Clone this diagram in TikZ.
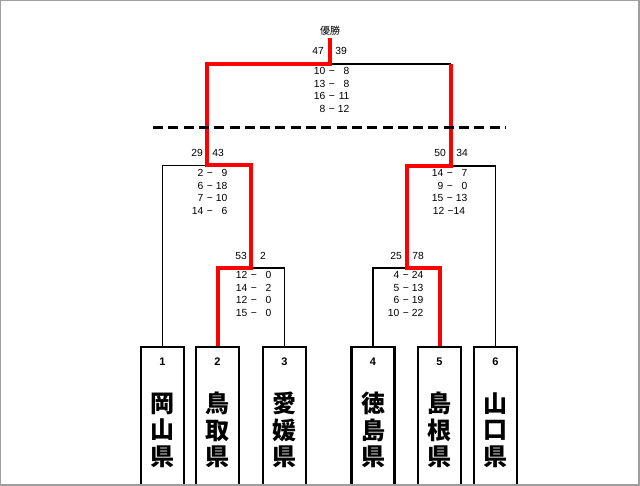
\documentclass[tikz,border=0pt]{standalone}
\usepackage{fontspec}
\setmainfont{Liberation Sans}
\newfontfamily\jp{Noto Sans CJK JP}
\newcommand\scr[2]{\makebox[1.25em][r]{#1}\,\,−\,\makebox[1.25em][r]{#2}}
\begin{document}
\begin{tikzpicture}[x=1pt,y=-1pt,
  win/.style={draw=red, line width=4pt, line join=miter},
  lose/.style={draw=black, line width=1.3pt},
  pref/.style={draw, line width=2.6pt, minimum width=43pt, minimum height=140pt, inner sep=0pt},
  num/.style={font=\fontsize{10.3}{12}\selectfont, inner sep=0pt},
  score/.style={font=\fontsize{10.3}{12.7}\selectfont, align=center, inner sep=0pt},
  seed/.style={font=\bfseries\fontsize{11}{12}\selectfont, inner sep=0pt},
  kanji/.style={font=\jp\bfseries\fontsize{24}{26.5}\selectfont, align=center, inner sep=0pt},
  frame/.style={fill=black!38, draw=none}]
\useasboundingbox (0,0) rectangle (640,486);
% boxes
\begin{scope}
\clip (0,0) rectangle (640,486);
\node[pref] (b1) at (162.5,417) {};
\node[pref] (b2) at (217.5,417) {};
\node[pref] (b3) at (284.5,417) {};
\node[pref] (b4) at (373,417) {};
\node[pref] (b5) at (439.5,417) {};
\node[pref] (b6) at (495.5,417) {};
\end{scope}
% seed numbers and names
\node[seed] (n1) at (162.5,362) {1};
\node[seed] (n2) at (217.5,362) {2};
\node[seed] (n3) at (284.5,362) {3};
\node[seed] (n4) at (373,362) {4};
\node[seed] (n5) at (439.5,362) {5};
\node[seed] (n6) at (495.5,362) {6};
\node[kanji] (k1) at (162.5,430) {岡\\山\\県};
\node[kanji] (k2) at (217.5,430) {鳥\\取\\県};
\node[kanji] (k3) at (284.5,430) {愛\\媛\\県};
\node[kanji] (k4) at (373,430) {徳\\島\\県};
\node[kanji] (k5) at (439.5,430) {島\\根\\県};
\node[kanji] (k6) at (495.5,430) {山\\口\\県};
% joints
\coordinate (j23) at (251,268);
\coordinate (jL) at (207,165.5);
\coordinate (tL) at (207,64);
\coordinate (top) at (330,64);
\coordinate (champ) at (330,38);
\coordinate (tR) at (451,64);
\coordinate (jR) at (451,166);
\coordinate (j45) at (407,268);
\coordinate (dl) at (153,128);
\coordinate (dr) at (505,128);
% losing lines
\draw[lose] (b1.north) |- (jL);
\draw[lose] (b3.north) |- (j23);
\draw[lose] (top) -- (tR);
\draw[lose] (b6.north) |- (jR);
\draw[lose] (b4.north) |- (j45);
% winning path
\draw[win] (b2.north) |- (j23) -- (j23 |- jL) -- (jL) -- (tL) -- (top) -- (champ);
\draw[win] (tR) -- (jR) -| (j45) -| (b5.north);
% dashed line
\draw[line width=3pt, dash pattern=on 10pt off 5.3pt] (dl) -- (dr);
% title and scores
\node[num, font=\jp\fontsize{10}{12}\selectfont] (title) at (330,31) {優勝};
\node[num] (f1) at (318,51) {47};
\node[num] (f2) at (341,51) {39};
\node[score] (fs) at (331,90) {\scr{10}{8}\\\scr{13}{8}\\\scr{16}{11}\\\scr{8}{12}};
\node[num] (l1) at (197,153) {29};
\node[num] (l2) at (218,153) {43};
\node[score] (ls) at (209,192) {\scr{2}{9}\\\scr{6}{18}\\\scr{7}{10}\\\scr{14}{6}};
\node[num] (r1) at (440,153) {50};
\node[num] (r2) at (462,153) {34};
\node[score] (rs) at (449,192) {\scr{14}{7}\\\scr{9}{0}\\\scr{15}{13}\\\makebox[1.25em][r]{12}\,\,−\makebox[1.25em][l]{14}\hspace{0.3em}};
\node[num] (a1) at (241,256) {53};
\node[num] (a2) at (263,256) {2};
\node[score] (as) at (253,294) {\scr{12}{0}\\\scr{14}{2}\\\scr{12}{0}\\\scr{15}{0}};
\node[num] (c1) at (396,256) {25};
\node[num] (c2) at (418,256) {78};
\node[score] (cs) at (405,294) {\scr{4}{24}\\\scr{5}{13}\\\scr{6}{19}\\\scr{10}{22}};
% outer frame
\fill[frame] (0,0) rectangle (640,1);
\fill[frame] (0,0) rectangle (1,486);
\fill[frame] (638,0) rectangle (640,486);
\fill[frame] (0,484) rectangle (640,486);
\end{tikzpicture}
\end{document}
